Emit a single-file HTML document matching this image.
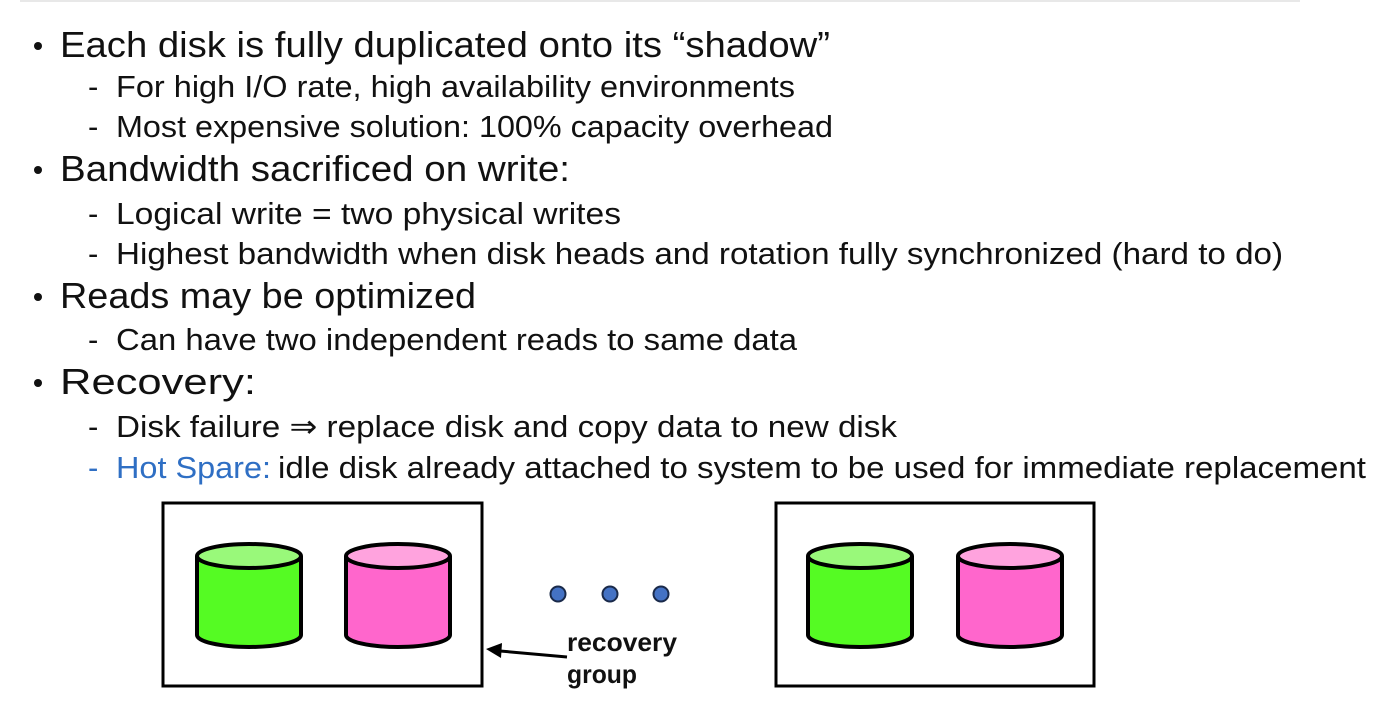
<!DOCTYPE html>
<html><head><meta charset="utf-8"><style>
html,body{margin:0;padding:0;background:#fff;width:1374px;height:716px;overflow:hidden}
text{font-family:"Liberation Sans",sans-serif;fill:#111}
.l1{font-size:36px}.l2{font-size:31px}
</style></head><body>
<svg width="1374" height="716" xmlns="http://www.w3.org/2000/svg">
<line x1="20" y1="1" x2="1300" y2="1" stroke="#e8e8e8" stroke-width="2"/>
<g>
<circle cx="38" cy="46" r="4" fill="#111"/>
<text class="l1" x="60" y="57" textLength="770" lengthAdjust="spacingAndGlyphs">Each disk is fully duplicated onto its “shadow”</text>
<text class="l2" x="88" y="97">-</text>
<text class="l2" x="116" y="97" textLength="679" lengthAdjust="spacingAndGlyphs">For high I/O rate, high availability environments</text>
<text class="l2" x="88" y="137">-</text>
<text class="l2" x="116" y="137" textLength="717" lengthAdjust="spacingAndGlyphs">Most expensive solution: 100% capacity overhead</text>
<circle cx="38" cy="170" r="4" fill="#111"/>
<text class="l1" x="60" y="181" textLength="510" lengthAdjust="spacingAndGlyphs">Bandwidth sacrificed on write:</text>
<text class="l2" x="88" y="224">-</text>
<text class="l2" x="116" y="224" textLength="505" lengthAdjust="spacingAndGlyphs">Logical write = two physical writes</text>
<text class="l2" x="88" y="264">-</text>
<text class="l2" x="116" y="264" textLength="1167" lengthAdjust="spacingAndGlyphs">Highest bandwidth when disk heads and rotation fully synchronized (hard to do)</text>
<circle cx="38" cy="297" r="4" fill="#111"/>
<text class="l1" x="60" y="308" textLength="416" lengthAdjust="spacingAndGlyphs">Reads may be optimized</text>
<text class="l2" x="88" y="350">-</text>
<text class="l2" x="116" y="350" textLength="681" lengthAdjust="spacingAndGlyphs">Can have two independent reads to same data</text>
<circle cx="38" cy="383" r="4" fill="#111"/>
<text class="l1" x="60" y="394" textLength="196" lengthAdjust="spacingAndGlyphs">Recovery:</text>
<text class="l2" x="88" y="437">-</text>
<text class="l2" x="116" y="437" textLength="781" lengthAdjust="spacingAndGlyphs">Disk failure ⇒ replace disk and copy data to new disk</text>
<text class="l2" x="88" y="478" style="fill:#2f6fc4">-</text>
<text class="l2" x="116" y="478" textLength="155" lengthAdjust="spacingAndGlyphs" style="fill:#2f6fc4">Hot Spare:</text>
<text class="l2" x="278" y="478" textLength="1088" lengthAdjust="spacingAndGlyphs">idle disk already attached to system to be used for immediate replacement</text>
</g>
<defs>
<g id="cylG">
<path d="M0,0 L0,79 A52,12 0 0 0 104,79 L104,0" fill="#55fb23" stroke="#000" stroke-width="4"/>
<ellipse cx="52" cy="0" rx="52" ry="12" fill="#99f97a" stroke="#000" stroke-width="4"/>
</g>
<g id="cylP">
<path d="M0,0 L0,79 A52,12 0 0 0 104,79 L104,0" fill="#ff66cc" stroke="#000" stroke-width="4"/>
<ellipse cx="52" cy="0" rx="52" ry="12" fill="#ffa3de" stroke="#000" stroke-width="4"/>
</g>
</defs>
<rect x="163" y="503" width="319" height="183" fill="none" stroke="#000" stroke-width="3"/>
<rect x="776" y="503" width="318" height="183" fill="none" stroke="#000" stroke-width="3"/>
<use href="#cylG" x="197" y="556"/>
<use href="#cylP" x="346" y="556"/>
<use href="#cylG" x="808" y="556"/>
<use href="#cylP" x="958" y="556"/>
<circle cx="558" cy="594" r="7.5" fill="#4472c4" stroke="#1a2a4a" stroke-width="2"/>
<circle cx="610" cy="594" r="7.5" fill="#4472c4" stroke="#1a2a4a" stroke-width="2"/>
<circle cx="661" cy="594" r="7.5" fill="#4472c4" stroke="#1a2a4a" stroke-width="2"/>
<line x1="567" y1="657" x2="500" y2="651" stroke="#000" stroke-width="3"/>
<polygon points="486,649 502,643 501,658" fill="#000"/>
<text x="567" y="651" style="font-size:26px;font-weight:bold" textLength="110" lengthAdjust="spacingAndGlyphs">recovery</text>
<text x="567" y="683" style="font-size:26px;font-weight:bold" textLength="70" lengthAdjust="spacingAndGlyphs">group</text>
</svg>
</body></html>
